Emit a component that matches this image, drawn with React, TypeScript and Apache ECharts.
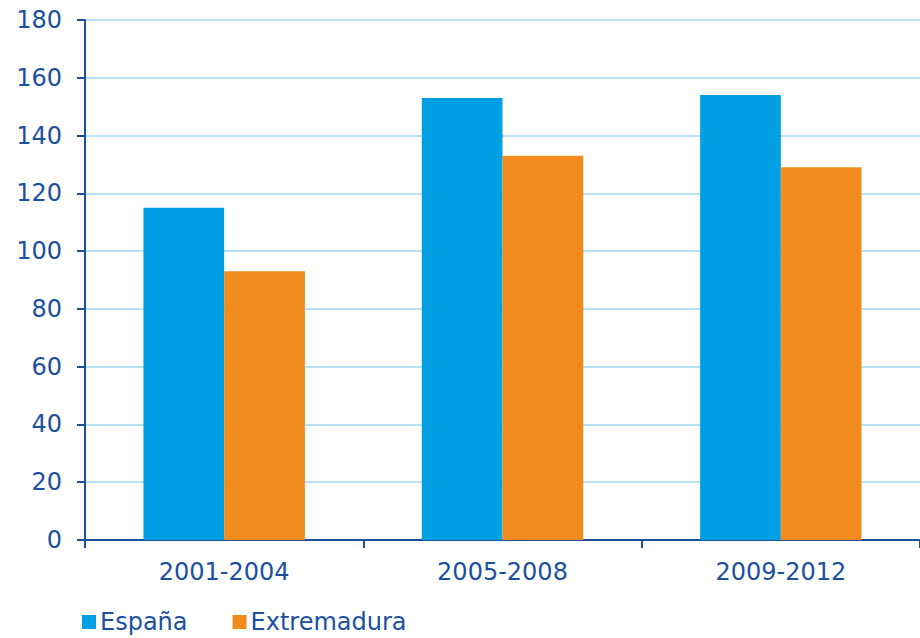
import React, { useEffect, useRef } from "react";
import * as echarts from "echarts";

const categories = ["2001-2004", "2005-2008", "2009-2012"];
const espana = [115, 153, 154];
const extremadura = [93, 133, 129];
const seriesNames = ["España", "Extremadura"];

const TEXT = "#1d4f9f";
const FONT = "DejaVu Sans";

export default function App() {
  const ref = useRef<HTMLDivElement>(null);
  useEffect(() => {
    const chart = echarts.init(ref.current!, null, { renderer: "svg" });
    chart.setOption({
      animation: false,
      textStyle: { fontFamily: FONT },
      grid: { left: 85, right: -5, top: 20, bottom: 98 },
      legend: {
        left: 82,
        top: 610,
        padding: 0,
        itemWidth: 14,
        itemHeight: 14,
        itemGap: 45,
        icon: "rect",
        textStyle: { color: TEXT, fontSize: 24, fontFamily: FONT, padding: [0, 0, 0, -1] },
        data: seriesNames,
      },
      xAxis: {
        type: "category",
        data: categories,
        axisLine: { lineStyle: { color: TEXT, width: 2 } },
        axisTick: { show: true, length: 8, lineStyle: { color: TEXT, width: 2 } },
        axisLabel: { color: TEXT, fontSize: 24, fontFamily: FONT, margin: 20 },
      },
      yAxis: {
        type: "value",
        min: 0,
        max: 180,
        interval: 20,
        axisLine: { show: true, lineStyle: { color: TEXT, width: 2 } },
        axisTick: { show: true, length: 8, lineStyle: { color: TEXT, width: 2 } },
        axisLabel: { color: TEXT, fontSize: 24, fontFamily: FONT, margin: 23 },
        splitLine: { lineStyle: { color: "#b5e2f6", width: 2 } },
      },
      series: [
        {
          name: seriesNames[0],
          type: "bar",
          data: espana,
          itemStyle: { color: "#009fe3" },
          barGap: "0%",
          barCategoryGap: "42%",
        },
        {
          name: seriesNames[1],
          type: "bar",
          data: extremadura,
          itemStyle: { color: "#f28b1e" },
          barGap: "0%",
          barCategoryGap: "42%",
        },
      ],
    });
    return () => chart.dispose();
  }, []);
  return <div ref={ref} style={{ width: 920, height: 638, position: "absolute", left: 0, top: 0 }} />;
}
